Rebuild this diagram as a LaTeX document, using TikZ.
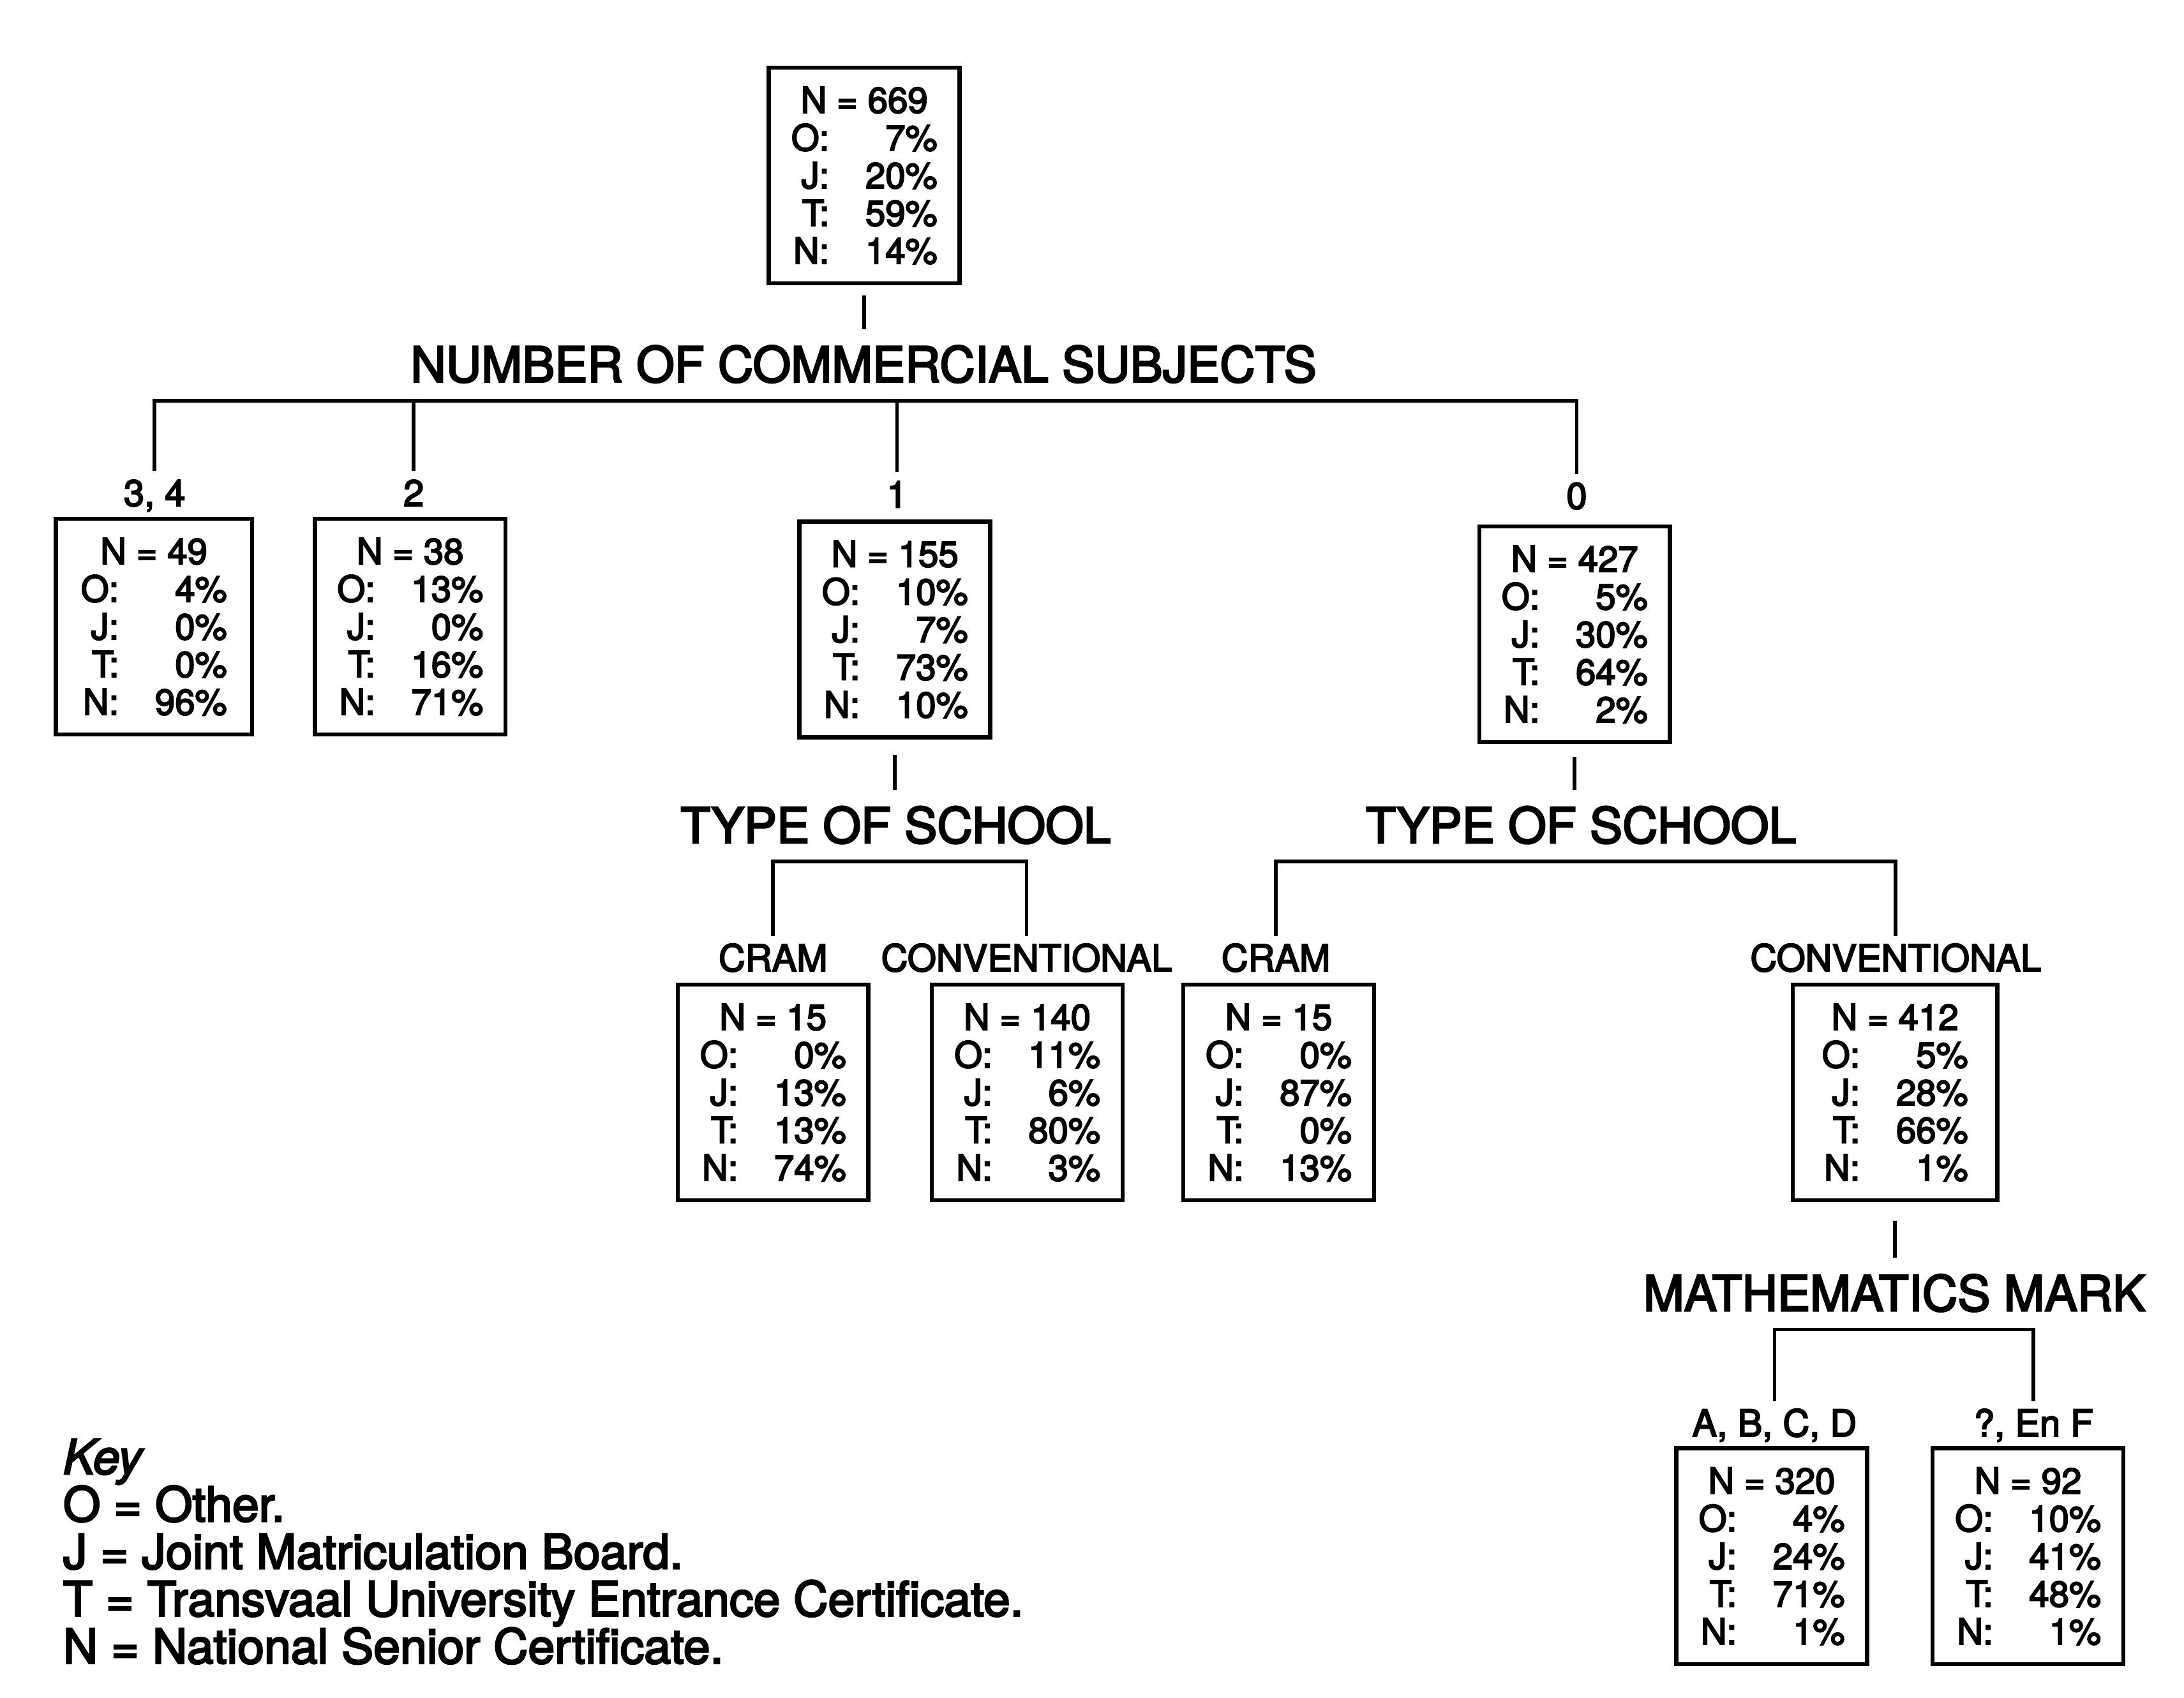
\documentclass[tikz,border=0pt]{standalone}
\usepackage{fontspec}
\setmainfont{TeX Gyre Heros}[FakeBold=3.5]
\usepackage{tikz}

\newcommand{\srow}[2]{\makebox[2.1cm]{\makebox[1.06em][r]{#1:}\hfill#2\%}}
\newcommand{\shares}[5]{N = #1\\\srow{O}{#2}\\\srow{J}{#3}\\\srow{T}{#4}\\\srow{N}{#5}}

\begin{document}
\begin{tikzpicture}[x=0.02cm, y=-0.02cm,
    box/.style={draw, line width=1.7pt, minimum width=2.74cm, minimum height=3.1cm, inner sep=0pt, align=center, font=\fontsize{14.7}{15.4}\selectfont},
    head/.style={inner xsep=0pt, inner ysep=0.26cm, text height=14pt, text depth=0pt, font=\fontsize{20}{22}\selectfont},
    branch/.style={inner xsep=0pt, inner ysep=0.12cm, text height=10.7pt, text depth=0pt, font=\fontsize{15.1}{17}\selectfont},
    link/.style={line width=1.5pt}]
    \useasboundingbox (0,0) rectangle (1568,1219);
    \node[box] (root) at (620.5,126) {\shares{669}{7}{20}{59}{14}};
    \node[head] (ncs) at (620,262) {NUMBER OF COMMERCIAL SUBJECTS};
    \node[branch] (l34) at (111,354) {3, 4};
    \node[branch] (l2) at (297,354) {2};
    \node[branch] (l1) at (644,355) {1};
    \node[branch] (l0) at (1132,356) {0};
    \node[box, minimum width=2.82cm] (b34) at (110.5,450) {\shares{49}{4}{0}{0}{96}};
    \node[box] (b2) at (294.5,450) {\shares{38}{13}{0}{16}{71}};
    \node[box] (b1) at (642.5,452) {\shares{155}{10}{7}{73}{10}};
    \node[box] (b0) at (1130.5,455.5) {\shares{427}{5}{30}{64}{2}};
    \node[head] (tos1) at (643,593) {TYPE OF SCHOOL};
    \node[head] (tos0) at (1135,593) {TYPE OF SCHOOL};
    \node[branch] (cram1l) at (555,688) {CRAM};
    \node[branch] (conv1l) at (737,688) {CONVENTIONAL};
    \node[branch] (cram0l) at (916,688) {CRAM};
    \node[branch] (conv0l) at (1361,688) {CONVENTIONAL};
    \node[box] (cram1) at (555,784.5) {\shares{15}{0}{13}{13}{74}};
    \node[box] (conv1) at (737.5,784.5) {\shares{140}{11}{6}{80}{3}};
    \node[box] (cram0) at (918,784.5) {\shares{15}{0}{87}{0}{13}};
    \node[box, minimum width=2.94cm] (conv0) at (1360.5,784.5) {\shares{412}{5}{28}{66}{1}};
    \node[head] (mm) at (1360,929) {MATHEMATICS MARK};
    \node[branch] (abcdl) at (1274,1022) {A, B, C, D};
    \node[branch] (enfl) at (1460,1022) {?, En F};
    \node[box] (abcd) at (1272,1117.5) {\shares{320}{4}{24}{71}{1}};
    \node[box] (enf) at (1456,1117.5) {\shares{92}{10}{41}{48}{1}};
    \node[anchor=north west, align=left, inner sep=0pt, font=\fontsize{19.6}{19.35}\selectfont] (key) at (45,1033) {\textit{Key}\\O = Other.\\J = Joint Matriculation Board.\\T = Transvaal University Entrance Certificate.\\N = National Senior Certificate.};
    \draw[link] ([yshift=-0.14cm]root.south) -- (root.south |- ncs.north);
    \draw[link] (l34.north) |- (ncs.south) -| (l0.north);
    \draw[link] (l2.north) -- (l2.north |- ncs.south);
    \draw[link] (l1.north) -- (l1.north |- ncs.south);
    \draw[link] ([yshift=-0.22cm]b1.south) -- (b1.south |- tos1.north);
    \draw[link] ([yshift=-0.18cm]b0.south) -- (b0.south |- tos0.north);
    \draw[link] (cram1l.north) |- (tos1.south) -| (conv1l.north);
    \draw[link] (cram0l.north) |- (tos0.south) -| (conv0l.north);
    \draw[link] ([yshift=-0.26cm]conv0.south) -- (conv0.south |- mm.north);
    \draw[link] (abcdl.north) |- (mm.south) -| (enfl.north);
\end{tikzpicture}
\end{document}
